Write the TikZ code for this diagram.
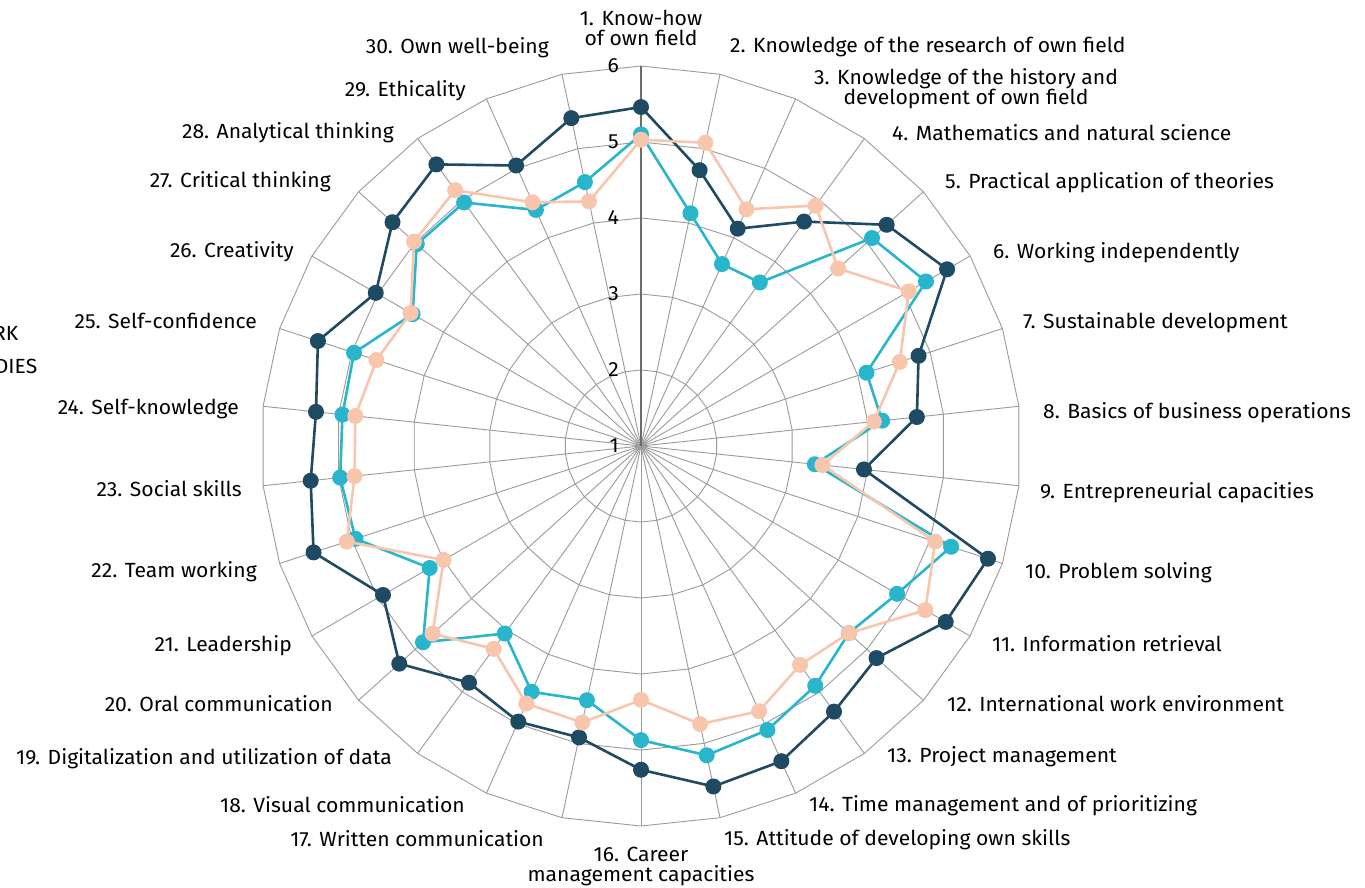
\documentclass[tikz,border=0pt]{standalone}
\usepackage{fontspec}
\setmainfont{Fira Sans}[FakeStretch=1.03]
\definecolor{darkc}{HTML}{1F4A63}
\definecolor{cyanc}{HTML}{29B6CD}
\definecolor{peachc}{HTML}{F8C6AD}
\definecolor{gridc}{HTML}{9A9A9A}
\begin{document}
\begin{tikzpicture}[x=1pt,y=-1pt,
  gridline/.style={draw=gridc,line width=0.9pt},
  mainaxis/.style={draw=gray!85!black,line width=1.4pt},
  series/.style={line width=2.6pt,line join=round},
  lab/.style={font=\fontsize{20.5}{20}\selectfont,inner sep=0pt,text=black},
  rlab/.style={lab,anchor=base west},
  llab/.style={lab,anchor=base east},
  ticklab/.style={font=\fontsize{20.5}{20}\selectfont,inner sep=0pt,anchor=east}]
\useasboundingbox (0,0) rectangle (1365,888);
\coordinate (O) at (641,446);
% outer vertices
\foreach \k in {1,...,30}{
  \coordinate (o\k) at ({641+380*cos(102-12*\k)},{446-380*sin(102-12*\k)});
}
% grid polygons
\foreach \r in {76,152,228,304,380}{
  \draw[gridline] ({641+\r*cos(90)},{446-\r*sin(90)})
    \foreach \k in {2,...,30}{ -- ({641+\r*cos(102-12*\k)},{446-\r*sin(102-12*\k)}) } -- cycle;
}
% spokes
\foreach \k in {2,...,30}{ \draw[gridline] (O) -- (o\k); }
\draw[mainaxis] (O) -- (o1);
% tick labels
\foreach \v in {1,...,6}{
  \node[ticklab] (t\v) at (619,{446-76*(\v-1)}) {\v};
}
% data
\foreach \v [count=\k] in {5.46,4.71,4.13,4.65,5.35,5.65,4.84,4.65,3.95,5.80,5.63,5.17,5.32,5.54,5.58,5.26,4.92,4.97,4.85,5.28,4.92,5.53,5.37,5.30,5.47,5.03,5.40,5.58,5.04,5.41}{
  \coordinate (d\k) at ({641+76*(\v-1)*cos(102-12*\k)},{446-76*(\v-1)*sin(102-12*\k)});
}
\foreach \v [count=\k] in {5.10,4.13,3.62,3.66,5.09,5.33,4.12,4.19,3.30,5.29,4.89,4.68,4.90,5.09,5.16,4.87,4.42,4.54,4.05,4.86,4.21,4.95,4.98,4.95,4.97,4.47,4.97,4.96,4.40,4.55}{
  \coordinate (c\k) at ({641+76*(\v-1)*cos(102-12*\k)},{446-76*(\v-1)*sin(102-12*\k)});
}
\foreach \v [count=\k] in {5.03,5.08,4.41,4.91,4.49,5.07,4.58,4.08,3.40,5.07,5.32,4.68,4.56,4.82,4.74,4.34,4.72,4.71,4.30,4.69,4.00,5.07,4.79,4.78,4.66,4.50,5.02,5.16,4.51,4.29}{
  \coordinate (p\k) at ({641+76*(\v-1)*cos(102-12*\k)},{446-76*(\v-1)*sin(102-12*\k)});
}
\draw[series,darkc] (d1) \foreach \k in {2,...,30}{ -- (d\k) } -- cycle;
\foreach \k in {1,...,30}{ \fill[darkc] (d\k) circle (8); }
\draw[series,cyanc] (c1) \foreach \k in {2,...,30}{ -- (c\k) } -- cycle;
\foreach \k in {1,...,30}{ \fill[cyanc] (c\k) circle (8); }
\draw[series,peachc] (p1) \foreach \k in {2,...,30}{ -- (p\k) } -- cycle;
\foreach \k in {1,...,30}{ \fill[peachc] (p\k) circle (8); }
% axis labels
\node[lab,align=center] (l1) at (641,28) {1. Know-how\\of own field};
\node[rlab] (l2) at (730,53) {2. Knowledge of the research of own field};
\node[lab,align=center] (l3) at (966,89) {3. Knowledge of the history and\\development of own field};
\node[rlab] (l4) at (892,141) {4. Mathematics and natural science};
\node[rlab] (l5) at (945,188) {5. Practical application of theories};
\node[rlab] (l6) at (993,258) {6. Working independently};
\node[rlab] (l7) at (1023,328) {7. Sustainable development};
\node[rlab] (l8) at (1043,418) {8. Basics of business operations};
\node[rlab] (l9) at (1040,498) {9. Entrepreneurial capacities};
\node[rlab] (l10) at (1025,578) {10. Problem solving};
\node[rlab] (l11) at (992,651) {11. Information retrieval};
\node[rlab] (l12) at (947,711) {12. International work environment};
\node[rlab] (l13) at (887,762) {13. Project management};
\node[rlab] (l14) at (809,811) {14. Time management and of prioritizing};
\node[rlab] (l15) at (724,845) {15. Attitude of developing own skills};
\node[lab,align=center] (l16) at (641,866) {16. Career\\management capacities};
\node[llab] (l17) at (544,846) {17. Written communication};
\node[llab] (l18) at (465,812) {18. Visual communication};
\node[llab] (l19) at (392,764) {19. Digitalization and utilization of data};
\node[llab] (l20) at (333,711) {20. Oral communication};
\node[llab] (l21) at (292,651) {21. Leadership};
\node[llab] (l22) at (257,577) {22. Team working};
\node[llab] (l23) at (242,496) {23. Social skills};
\node[llab] (l24) at (239,414) {24. Self-knowledge};
\node[llab] (l25) at (257,328) {25. Self-confidence};
\node[llab] (l26) at (294,257) {26. Creativity};
\node[llab] (l27) at (331,187) {27. Critical thinking};
\node[llab] (l28) at (394,139) {28. Analytical thinking};
\node[llab] (l29) at (466,97) {29. Ethicality};
\node[llab] (l30) at (549,54) {30. Own well-being};
% cut-off legend fragments
\node[llab] (lg1) at (18.5,340) {RK};
\node[llab] (lg2) at (37.5,373) {DIES};
\end{tikzpicture}
\end{document}
